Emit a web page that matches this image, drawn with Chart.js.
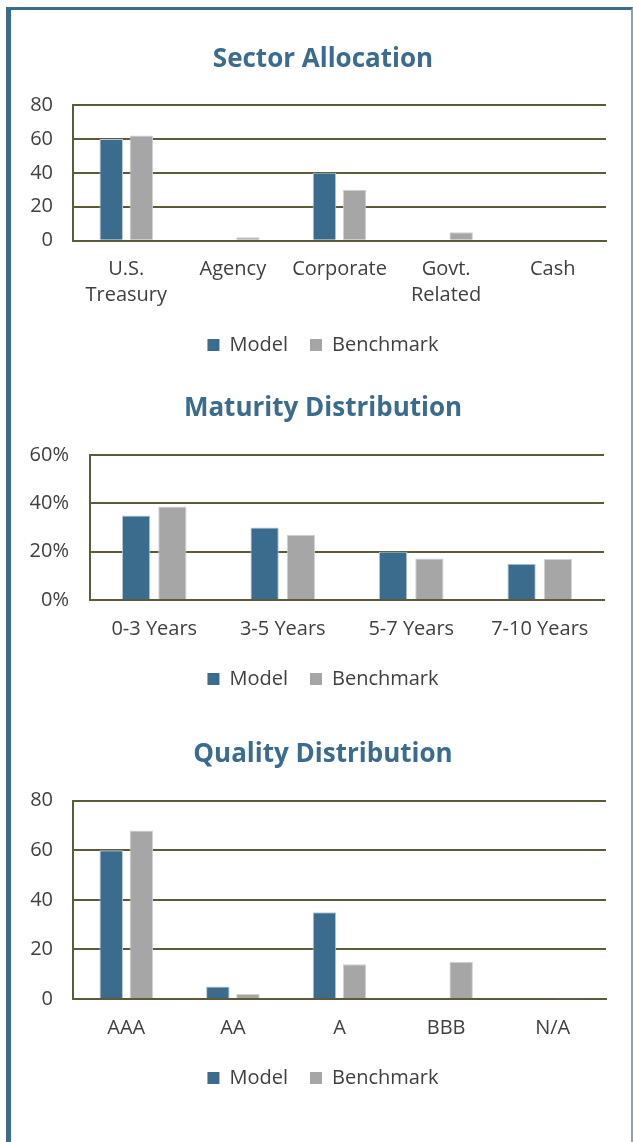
<!DOCTYPE html>
<html>
<head>
<meta charset="utf-8">
<script src="https://cdn.jsdelivr.net/npm/chart.js@4/dist/chart.umd.min.js"></script>
<style>
  html, body { margin: 0; padding: 0; background: #ffffff; overflow: hidden; }
  body { width: 633px; height: 1142px; position: relative; }
  #frame { position: absolute; left: 6px; top: 7px; width: 620px; height: 1200px;
           border-left: 5px solid #3b6b8d; border-top: 3px solid #3b6b8d; border-right: 2px solid #7fa8b7; }
  .box { position: absolute; left: 0; width: 646px; }
  .box canvas { display: block; }
</style>
</head>
<body>
<div id="frame"></div>
<div class="box" id="b1" style="top:0px;height:365px;"><canvas id="c1"></canvas></div>
<div class="box" id="b2" style="top:364px;height:335px;"><canvas id="c2"></canvas></div>
<div class="box" id="b3" style="top:698px;height:400px;"><canvas id="c3"></canvas></div>
<script>
// ---- data ----
const seriesNames = ['Model', 'Benchmark'];

const sectorCategories = [['U.S.', 'Treasury'], 'Agency', 'Corporate', ['Govt.', 'Related'], 'Cash'];
const sectorModel = [60, 0, 40, 0, 0];
const sectorBenchmark = [62, 2, 30, 5, 0];
const sectorTicks = [0, 20, 40, 60, 80];

const maturityCategories = ['0-3 Years', '3-5 Years', '5-7 Years', '7-10 Years'];
const maturityModel = [35, 30, 20, 15];
const maturityBenchmark = [38.7, 27, 17.2, 17];
const maturityTicks = [0, 20, 40, 60];

const qualityCategories = ['AAA', 'AA', 'A', 'BBB', 'N/A'];
const qualityModel = [60, 5, 35, 0, 0];
const qualityBenchmark = [68, 2, 14, 15, 0.3];
const qualityTicks = [0, 20, 40, 60, 80];

// ---- styles ----
const MODEL_COLOR = '#3b6b8d';
const BENCH_COLOR = '#a6a6a6';
const GRID_COLOR = '#5b5a3b';
const TEXT_COLOR = '#404040';
const FONT = '"Open Sans", "Noto Sans", sans-serif';

function makeChart(id, cfg) {
  const ticks = cfg.ticks;
  return new Chart(document.getElementById(id), {
    type: 'bar',
    data: {
      labels: cfg.labels,
      datasets: [
        { label: seriesNames[0], data: cfg.model, backgroundColor: MODEL_COLOR,
          borderColor: '#b7c8d4', borderWidth: 1, borderSkipped: 'bottom', yAxisID: 'y' },
        { label: seriesNames[1], data: cfg.bench, backgroundColor: BENCH_COLOR,
          borderColor: '#d2d2d2', borderWidth: 1, borderSkipped: 'bottom', yAxisID: 'y' }
      ]
    },
    options: {
      responsive: true,
      maintainAspectRatio: false,
      animation: false,
      events: [],
      layout: { padding: { left: 0, right: 0, top: 0, bottom: 0 } },
      datasets: { bar: { categoryPercentage: 0.565, barPercentage: 0.78 } },
      plugins: {
        title: {
          display: true,
          text: cfg.title,
          color: MODEL_COLOR,
          font: { family: FONT, size: 26, weight: 'bold', lineHeight: 1.2 },
          padding: { top: cfg.titleTop, bottom: cfg.titleBottom }
        },
        legend: {
          display: true,
          position: 'bottom',
          labels: {
            color: TEXT_COLOR,
            font: { family: FONT, size: 20 },
            boxWidth: 12,
            boxHeight: 12,
            padding: 22,
            generateLabels(chart) {
              const items = Chart.defaults.plugins.legend.labels.generateLabels(chart);
              items.forEach(it => { it.lineWidth = 0; it.strokeStyle = 'rgba(0,0,0,0)'; });
              return items;
            }
          }
        },
        tooltip: { enabled: false }
      },
      scales: {
        x: {
          grid: { display: false, drawTicks: false },
          border: { display: true, color: GRID_COLOR, width: 2 },
          ticks: { color: TEXT_COLOR, font: { family: FONT, size: 20, lineHeight: 1.3 },
                   padding: cfg.xPad, maxRotation: 0, autoSkip: false },
          afterFit(scale) { scale.height = cfg.xHeight; }
        },
        y: {
          position: 'left',
          min: ticks[0],
          max: ticks[ticks.length - 1],
          afterBuildTicks(scale) { scale.ticks = ticks.map(v => ({ value: v })); },
          grid: { color: GRID_COLOR, lineWidth: 2, drawTicks: false },
          border: { display: true, color: GRID_COLOR, width: 2 },
          ticks: { color: TEXT_COLOR, font: { family: FONT, size: 20 }, padding: cfg.yPad,
                   callback: cfg.fmt },
          afterFit(scale) { scale.width = cfg.yWidth; }
        },
        // empty spacer on the right so the title/legend centre matches the original
        spacer: {
          type: 'linear',
          position: 'right',
          display: true,
          grid: { display: false, drawTicks: false },
          border: { display: false },
          ticks: { display: false },
          afterFit(scale) { scale.width = cfg.rightGap; }
        }
      }
    }
  });
}

makeChart('c1', {
  title: 'Sector Allocation', labels: sectorCategories, model: sectorModel, bench: sectorBenchmark,
  ticks: sectorTicks, fmt: v => String(v),
  titleTop: 44, titleBottom: 29.8, xPad: 15.5, xHeight: 72.3, yWidth: 73, yPad: 20, rightGap: 40
});
makeChart('c2', {
  title: 'Maturity Distribution', labels: maturityCategories, model: maturityModel, bench: maturityBenchmark,
  ticks: maturityTicks, fmt: v => v + '%',
  titleTop: 29, titleBottom: 30.8, xPad: 16, xHeight: 47, yWidth: 90, yPad: 21, rightGap: 42
});
makeChart('c3', {
  title: 'Quality Distribution', labels: qualityCategories, model: qualityModel, bench: qualityBenchmark,
  ticks: qualityTicks, fmt: v => String(v),
  titleTop: 41, titleBottom: 30.5, xPad: 16, xHeight: 47, yWidth: 73, yPad: 20, rightGap: 40
});
</script>
</body>
</html>
